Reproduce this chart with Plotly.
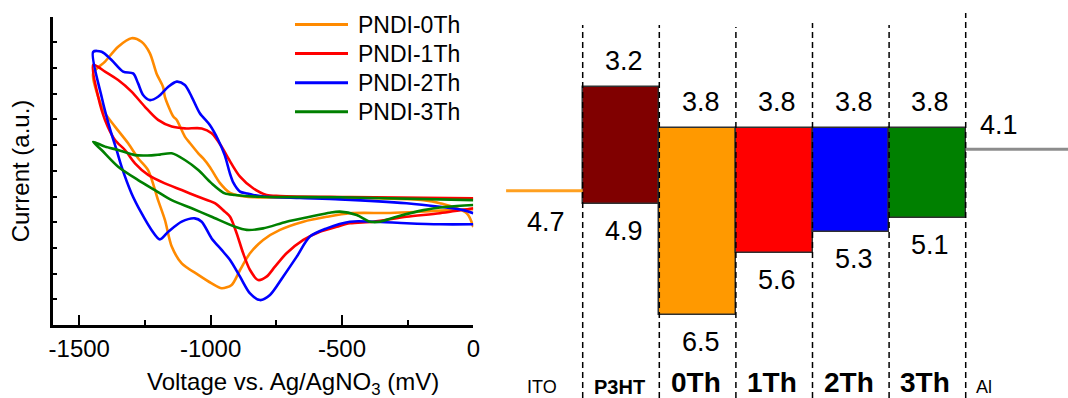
import plotly.graph_objects as go

# ---------------- Cyclic voltammograms (potential in mV vs Ag/AgNO3, current in a.u.) ----------------
v_0th = [0, -25, -127, -190, -355, -660, -863, -926, -965, -1003, -1029, -1047, -1079, -1098, -1129,
         -1142, -1174, -1181, -1206, -1231, -1263, -1301, -1352, -1402, -1447,
         -1428, -1402, -1364, -1314, -1276, -1238, -1200, -1174, -1148, -1110, -1047, -996, -958,
         -920, -888, -850, -800, -736, -647, -558, -470, -317, -165, 0]
i_0th = [3.81, 4.35, 4.74, 4.86, 4.93, 4.96, 4.99, 5.14, 5.53, 6.15, 6.49, 6.68, 7.08, 7.33, 7.98,
         8.11, 8.88, 9.26, 9.79, 10.57, 11.02, 11.16, 10.83, 10.25, 9.79,
         8.88, 8.24, 7.72, 7.07, 6.49, 6.03, 4.86, 4.09, 3.05, 2.40, 1.95, 1.62, 1.43,
         1.56, 2.14, 2.79, 3.31, 3.70, 4.02, 4.21, 4.35, 4.36, 4.43, 4.51]

v_1th = [0, -470, -736, -787, -838, -888, -933, -958, -996, -1034, -1098, -1148, -1200, -1250,
         -1301, -1352, -1402, -1447,
         -1428, -1402, -1364, -1326, -1288, -1238, -1174, -1110, -1047, -984, -946, -926, -901,
         -876, -850, -819, -787, -755, -711, -647, -584, -520, -470, -381, -254, -127, 0]
i_1th = [4.93, 4.98, 5.02, 5.06, 5.32, 5.77, 6.49, 6.94, 7.46, 7.65, 7.65, 7.72, 7.98, 8.49,
         9.08, 9.53, 9.86, 10.12,
         8.88, 7.98, 7.20, 6.81, 6.29, 5.84, 5.51, 5.25, 4.99, 4.74, 4.41, 4.21, 3.57,
         2.79, 2.14, 1.75, 1.88, 2.27, 2.79, 3.31, 3.63, 3.82, 3.96, 4.02, 4.21, 4.35, 4.54]

v_2th = [0, -38, -127, -254, -508, -660, -787, -838, -863, -888, -914, -926, -946, -971, -1003,
         -1041, -1072, -1098, -1129, -1161, -1200, -1231, -1257, -1276, -1295, -1333, -1377,
         -1415, -1447,
         -1415, -1382, -1358, -1339, -1301, -1263, -1225, -1193, -1161, -1110, -1060, -1034,
         -996, -958, -926, -888, -850, -812, -774, -724, -672, -622, -558, -470, -381, -254,
         -127, 0]
i_2th = [4.35, 4.47, 4.60, 4.74, 4.89, 4.94, 4.99, 5.06, 5.12, 5.19, 5.55, 5.88, 6.60, 7.20, 7.78,
         8.24, 8.88, 9.34, 9.47, 9.27, 8.88, 8.75, 8.95, 9.40, 9.79, 9.86, 10.31,
         10.63, 10.63,
         8.88, 7.59, 6.81, 6.16, 5.12, 4.35, 3.70, 3.33, 3.63, 4.02, 4.15, 4.02,
         3.37, 2.92, 2.53, 1.88, 1.23, 0.97, 1.17, 1.88, 2.66, 3.44, 3.76, 4.02, 4.02, 3.96,
         3.92, 3.92]

v_3th = [0, -508, -812, -907, -946, -996, -1047, -1098, -1148, -1193, -1225, -1288, -1352,
         -1402, -1447,
         -1415, -1352, -1276, -1212, -1148, -1072, -996, -907, -863, -800, -711, -622, -546,
         -508, -444, -393, -355, -292, -190, -101, 0]
i_3th = [4.86, 4.97, 4.99, 5.06, 5.12, 5.51, 6.03, 6.42, 6.68, 6.63, 6.60, 6.61, 6.81,
         6.94, 7.13,
         6.81, 6.16, 5.64, 5.25, 4.86, 4.54, 4.21, 3.82, 3.70, 3.76, 4.02, 4.21, 4.37,
         4.41, 4.28, 4.02, 4.02, 4.21, 4.47, 4.60, 4.67]

cv_names = ["PNDI-0Th", "PNDI-1Th", "PNDI-2Th", "PNDI-3Th"]
cv_colors = ["#ff8a00", "#ff0000", "#0000ff", "#008000"]
cv_v = [v_0th, v_1th, v_2th, v_3th]
cv_i = [i_0th, i_1th, i_2th, i_3th]

volt_ticks = [-1500, -1000, -500, 0]
volt_ticktext = ["-1500", "-1000", "-500", "0"]

# ---------------- Energy levels (eV) ----------------
layers = ["ITO", "P3HT", "0Th", "1Th", "2Th", "3Th", "Al"]
work_fn = {"ITO": 4.7, "Al": 4.1}
lumo = [3.2, 3.8, 3.8, 3.8, 3.8]          # P3HT, 0Th, 1Th, 2Th, 3Th
homo = [4.9, 6.5, 5.6, 5.3, 5.1]
bar_colors = ["#800000", "#ff9900", "#ff0000", "#0000ff", "#008000"]

FONT = "Arial, Liberation Sans, sans-serif"
W, H = 1068, 398

fig = go.Figure()

# CV curves
for name, col, v, i in zip(cv_names, cv_colors, cv_v, cv_i):
    fig.add_trace(go.Scatter(x=v, y=i, mode="lines", name=name, showlegend=False,
                             line=dict(color=col, width=2.6, shape="spline", smoothing=0.8),
                             xaxis="x", yaxis="y"))

# energy-level bars (LUMO -> HOMO), one column per layer
centers = [layers.index(n) + 0.5 for n in layers[1:6]]
fig.add_trace(go.Bar(x=centers, y=[h - l for h, l in zip(homo, lumo)], base=lumo, width=1.0,
                     marker=dict(color=bar_colors, line=dict(color="#303030", width=1.5)),
                     showlegend=False, xaxis="x2", yaxis="y2"))

# electrode work functions as horizontal levels
ito_i = layers.index("ITO")
al_i = layers.index("Al")
fig.add_trace(go.Scatter(x=[ito_i, ito_i + 1], y=[work_fn["ITO"]] * 2, mode="lines",
                         line=dict(color="#ffa020", width=3), showlegend=False,
                         xaxis="x2", yaxis="y2"))
fig.add_trace(go.Scatter(x=[al_i, al_i + 1.5], y=[work_fn["Al"]] * 2, mode="lines",
                         line=dict(color="#8c8c8c", width=3), showlegend=False,
                         xaxis="x2", yaxis="y2"))

ann = []
shapes = []

# compact legend for the CV panel (line key + label, 29 px row pitch)
for k, (name, col) in enumerate(zip(cv_names, cv_colors)):
    yc = 1 - (24.5 + 29.1 * k) / H
    shapes.append(dict(type="line", xref="paper", yref="paper", x0=295 / W, x1=348 / W,
                       y0=yc, y1=yc, line=dict(color=col, width=3)))
    ann.append(dict(x=356 / W, y=yc, xref="paper", yref="paper", text=name, showarrow=False,
                    xanchor="left", yanchor="middle", font=dict(family=FONT, size=23, color="black")))

# x-axis title of the CV panel
ann.append(dict(x=293 / W, y=1 - 383 / H, xref="paper", yref="paper",
                text="Voltage vs. Ag/AgNO<sub>3</sub> (mV)", showarrow=False,
                xanchor="center", yanchor="middle", font=dict(family=FONT, size=24, color="black")))

# level value labels
num_font = dict(family=FONT, size=27, color="black")
for c, l, h in zip(centers, lumo, homo):
    ann.append(dict(x=c, y=l, xref="x2", yref="y2", text=f"{l:.1f}", showarrow=False,
                    yshift=26, xshift=3, font=num_font))
    ann.append(dict(x=c, y=h, xref="x2", yref="y2", text=f"{h:.1f}", showarrow=False,
                    yshift=-27, xshift=3, font=num_font))
ann.append(dict(x=ito_i + 0.5, y=work_fn["ITO"], xref="x2", yref="y2", text=f"{work_fn['ITO']:.1f}",
                showarrow=False, yshift=-31, xshift=2, font=num_font))
ann.append(dict(x=al_i + 0.43, y=work_fn["Al"], xref="x2", yref="y2", text=f"{work_fn['Al']:.1f}",
                showarrow=False, yshift=24, font=num_font))

# layer names along the bottom
for k, name in enumerate(layers):
    if name == "P3HT":
        txt, size, yc = f"<b>{name}</b>", 20, 387
    elif name.endswith("Th"):
        txt, size, yc = f"<b>{name}</b>", 28, 382
    else:
        txt, size, yc = name, 18, 387
    xs = -20 if name == "Al" else -2
    ann.append(dict(x=k + 0.5, y=1 - yc / H, xref="x2", yref="paper", text=txt, showarrow=False,
                    xshift=xs, yanchor="middle", font=dict(family=FONT, size=size, color="black")))

# dashed column dividers
div_tops = [25, 25, 27, 23, 25, 13]
for k, top in zip(range(1, 7), div_tops):
    shapes.append(dict(type="line", xref="x2", yref="paper", x0=k, x1=k, y0=0, y1=1 - top / H,
                       line=dict(color="black", width=1.5, dash="6px,4px")))

# Figure geometry: left CV panel, right energy diagram
ax_left, ax_right_px, ax_top, ax_bot = 53, 473.3, 17, 325
col_w = 76.6
x_first = 582.7
fig.update_layout(
    width=W, height=H, margin=dict(l=0, r=0, t=0, b=0),
    paper_bgcolor="white", plot_bgcolor="white",
    font=dict(family=FONT, color="black"),
    showlegend=False,
    xaxis=dict(domain=[ax_left / W, ax_right_px / W], range=[-1600, 0],
               tickvals=volt_ticks, ticktext=volt_ticktext, ticks="inside", ticklen=10, tickwidth=2,
               tickcolor="black", showline=True, linecolor="black", linewidth=2.5,
               showgrid=False, zeroline=False, tickfont=dict(size=24),
               minor=dict(tickvals=[-1250, -750, -250], ticks="inside", ticklen=5, tickwidth=2,
                          tickcolor="black", showgrid=False),
               anchor="y", automargin=False),
    yaxis=dict(domain=[1 - ax_bot / H, 1 - ax_top / H], range=[0, (ax_bot - ax_top) / 25.7],
               tickvals=list(range(1, 12)), showticklabels=False, ticks="inside", ticklen=4,
               tickwidth=2, tickcolor="black", showline=True, linecolor="black", linewidth=2.5,
               showgrid=False, zeroline=False,
               title=dict(text="Current (a.u.)", font=dict(size=24), standoff=14),
               anchor="x", automargin=False),
    xaxis2=dict(domain=[500 / W, 1.0],
                range=[1 - (x_first - 500) / col_w, 1 + (W - x_first) / col_w],
                visible=False, anchor="y2"),
    yaxis2=dict(domain=[0, 1], range=[3.2 + (H - 87) / 69.1, 3.2 - 87 / 69.1],
                visible=False, anchor="x2"),
    annotations=ann, shapes=shapes, bargap=0,
)

fig.write_html("out.html")
